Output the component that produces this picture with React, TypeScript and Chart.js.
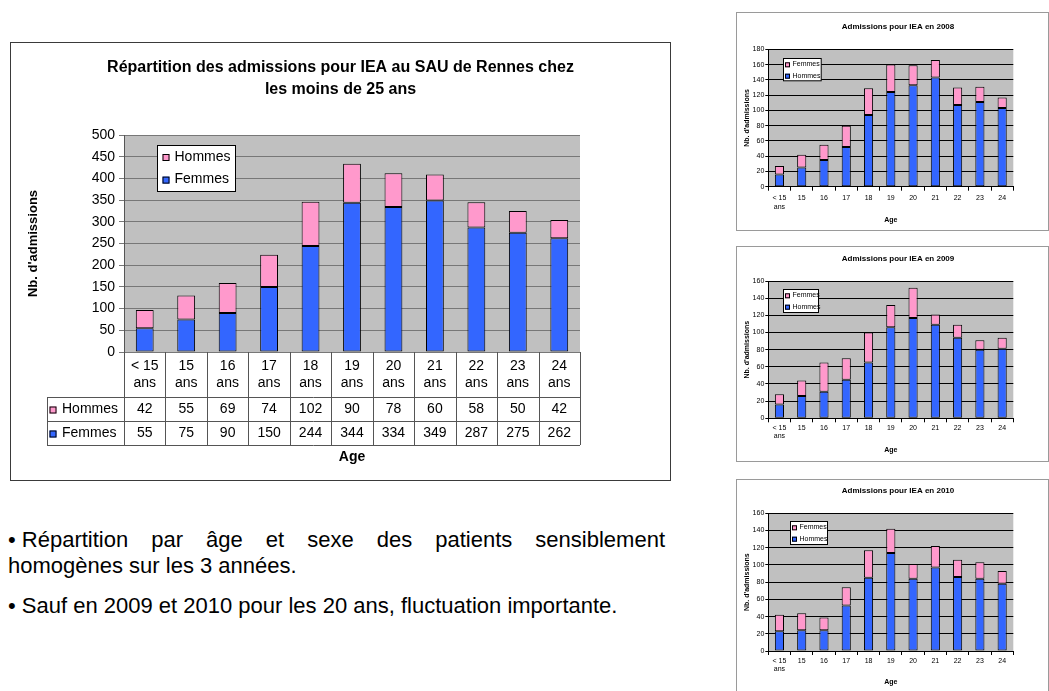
import React, { useEffect, useRef } from "react";
import { Chart, registerables } from "chart.js";

Chart.register(...registerables);

const FONT = "Arial, 'Liberation Sans', sans-serif";
const BLUE = "#3366FF";
const PINK = "#FF99CC";
const PLOT_GRAY = "#C0C0C0";

// ---------- Main chart data ----------
const mainTitleLines = [
  "Répartition des admissions pour IEA au SAU de Rennes chez",
  "les moins de 25 ans",
];
const mainAges = ["< 15 ans", "15 ans", "16 ans", "17 ans", "18 ans", "19 ans", "20 ans", "21 ans", "22 ans", "23 ans", "24 ans"];
const mainHommes = [42, 55, 69, 74, 102, 90, 78, 60, 58, 50, 42];
const mainFemmes = [55, 75, 90, 150, 244, 344, 334, 349, 287, 275, 262];
const mainYMax = 500;
const mainYStep = 50;

// ---------- Small charts data ----------
const smallAges: (string | string[])[] = [["< 15", "ans"], "15", "16", "17", "18", "19", "20", "21", "22", "23", "24"];
const hommes2008 = [16, 25, 35, 52, 94, 124, 133, 143, 107, 111, 103];
const femmes2008 = [11, 17, 20, 28, 35, 36, 26, 23, 23, 20, 14];
const hommes2009 = [16, 26, 31, 45, 65, 106, 117, 109, 94, 80, 81];
const femmes2009 = [12, 18, 34, 25, 35, 26, 35, 12, 15, 11, 13];
const hommes2010 = [23, 24, 24, 53, 85, 114, 84, 97, 86, 84, 78];
const femmes2010 = [19, 20, 15, 21, 32, 28, 17, 25, 20, 19, 15];

const bullet1Head = "• Répartition";
const bullet1Rest = " par âge et sexe des patients sensiblement";
const bullet1b = "homogènes sur les 3 années.";
const bullet2 = "• Sauf en 2009 et 2010 pour les 20 ans, fluctuation importante.";

function drawKey(ctx: CanvasRenderingContext2D, x: number, y: number, s: number, color: string) {
  ctx.fillStyle = color;
  ctx.fillRect(x, y, s, s);
  ctx.strokeStyle = "#000";
  ctx.lineWidth = 1;
  ctx.strokeRect(x + 0.5, y + 0.5, s - 1, s - 1);
}

function MainChart() {
  const ref = useRef<HTMLCanvasElement | null>(null);
  useEffect(() => {
    const canvas = ref.current!;
    const W = 659;
    const H = 437;
    const plotLeft = 113;
    const plotRight = 569;
    const plotTop = 92;
    const plotBottom = 309;

    const bg = {
      id: "mainBg",
      beforeDraw(c: any) {
        const { ctx, chartArea: a } = c;
        ctx.save();
        ctx.fillStyle = PLOT_GRAY;
        ctx.fillRect(a.left, a.top, a.right - a.left, a.bottom - a.top);
        ctx.restore();
      },
    };

    const title = {
      id: "mainTitle",
      afterDraw(c: any) {
        const ctx = c.ctx;
        ctx.save();
        ctx.fillStyle = "#000";
        ctx.font = `bold 16px ${FONT}`;
        ctx.textAlign = "center";
        ctx.textBaseline = "middle";
        mainTitleLines.forEach((l, i) => ctx.fillText(l, W / 2, 24.5 + i * 22));
        ctx.restore();
      },
    };

    const legend = {
      id: "mainLegend",
      afterDraw(c: any) {
        const { ctx, chartArea: a } = c;
        const lx = a.left + 33.5;
        const ly = a.top + 10.5;
        const lw = 78;
        const lh = 46;
        ctx.save();
        ctx.fillStyle = "#fff";
        ctx.fillRect(lx, ly, lw, lh);
        ctx.strokeStyle = "#000";
        ctx.lineWidth = 1;
        ctx.strokeRect(lx, ly, lw, lh);
        const ds = [...c.data.datasets].reverse();
        ds.forEach((d: any, i: number) => {
          const cy = ly + 11.5 + i * 22.6;
          drawKey(ctx, lx + 5, cy - 3, 7, d.backgroundColor);
          ctx.fillStyle = "#000";
          ctx.font = `14px ${FONT}`;
          ctx.textAlign = "left";
          ctx.textBaseline = "middle";
          ctx.fillText(d.label, lx + 17, cy);
        });
        ctx.restore();
      },
    };

    const table = {
      id: "mainTable",
      afterDraw(c: any) {
        const { ctx, chartArea: a } = c;
        const xs = c.scales.x;
        const n = c.data.labels.length;
        const cw = (a.right - a.left) / n;
        const headerBottom = a.bottom + 45;
        const rowH = 24;
        const tableLeft = 36;
        const ds = [...c.data.datasets].reverse();
        const tableBottom = headerBottom + rowH * ds.length;
        ctx.save();
        ctx.strokeStyle = "#555";
        ctx.lineWidth = 1;
        ctx.beginPath();
        for (let i = 0; i <= n; i++) {
          const x = Math.round(a.left + i * cw) + 0.5;
          ctx.moveTo(x, a.bottom);
          ctx.lineTo(x, tableBottom);
        }
        for (let r = 0; r <= ds.length; r++) {
          const y = Math.round(headerBottom + r * rowH) + 0.5;
          ctx.moveTo(tableLeft, y);
          ctx.lineTo(a.right, y);
        }
        ctx.moveTo(tableLeft + 0.5, headerBottom);
        ctx.lineTo(tableLeft + 0.5, tableBottom);
        ctx.stroke();

        ctx.fillStyle = "#000";
        ctx.font = `14px ${FONT}`;
        ctx.textAlign = "center";
        ctx.textBaseline = "middle";
        c.data.labels.forEach((lab: string, i: number) => {
          const x = xs.getPixelForValue(i);
          const k = lab.lastIndexOf(" ");
          ctx.fillText(lab.slice(0, k), x, a.bottom + 14);
          ctx.fillText(lab.slice(k + 1), x, a.bottom + 31);
        });
        ds.forEach((d: any, r: number) => {
          const cy = headerBottom + rowH * r + rowH / 2 + 0.5;
          drawKey(ctx, tableLeft + 2.5, cy - 3, 7, d.backgroundColor);
          ctx.fillStyle = "#000";
          ctx.textAlign = "left";
          ctx.fillText(d.label, tableLeft + 15, cy);
          ctx.textAlign = "center";
          d.data.forEach((v: number, i: number) => {
            ctx.fillText(String(v), xs.getPixelForValue(i), cy);
          });
        });
        ctx.restore();
      },
    };

    const barStyle = {
      borderColor: "#000",
      borderWidth: 1,
      borderSkipped: false,
      barPercentage: 0.43,
      categoryPercentage: 1,
    };

    const chart = new Chart(canvas, {
      type: "bar",
      data: {
        labels: mainAges,
        datasets: [
          { label: "Femmes", data: mainFemmes, backgroundColor: BLUE, ...barStyle },
          { label: "Hommes", data: mainHommes, backgroundColor: PINK, ...barStyle },
        ],
      },
      options: {
        responsive: false,
        animation: false,
        events: [],
        layout: { padding: { left: 0, right: W - plotRight, top: plotTop, bottom: 0 } },
        plugins: { legend: { display: false }, title: { display: false }, tooltip: { enabled: false } },
        scales: {
          x: {
            stacked: true,
            offset: true,
            grid: { display: false },
            border: { display: false },
            ticks: { display: false },
            title: {
              display: true,
              text: "Age",
              color: "#000",
              font: { family: FONT, size: 14, weight: "bold" },
              padding: { top: 0, bottom: 14 },
            },
            afterFit: (s: any) => {
              s.height = H - plotBottom;
            },
          },
          y: {
            stacked: true,
            min: 0,
            max: mainYMax,
            ticks: { stepSize: mainYStep, color: "#000", font: { family: FONT, size: 14 }, padding: 4 },
            grid: { color: "#777", tickLength: 5 },
            border: { color: "#555" },
            title: {
              display: true,
              text: "Nb. d'admissions",
              color: "#000",
              font: { family: FONT, size: 13, weight: "bold" },
              padding: { top: 14.2, bottom: 0 },
            },
            afterFit: (s: any) => {
              s.width = plotLeft;
            },
          },
        },
      } as any,
      plugins: [bg, title, legend, table],
    });
    return () => chart.destroy();
  }, []);
  return <canvas ref={ref} width={659} height={437} style={{ display: "block" }} />;
}

type SmallProps = {
  title: string;
  hommes: number[];
  femmes: number[];
  yMax: number;
  height: number;
  plotTop: number;
  plotBottom: number;
  titleY: number;
  labelGap: number;
  ageY: number;
  legendBox: number[];
};

function SmallChart(p: SmallProps) {
  const ref = useRef<HTMLCanvasElement | null>(null);
  useEffect(() => {
    const canvas = ref.current!;
    const W = 311;
    const H = p.height;
    const plotLeft = 31.3;
    const plotRight = 276.3;
    const lineH = 7 * 1.25;

    const bg = {
      id: "smallBg",
      beforeDraw(c: any) {
        const { ctx, chartArea: a } = c;
        ctx.save();
        ctx.fillStyle = PLOT_GRAY;
        ctx.fillRect(a.left, a.top, a.right - a.left, a.bottom - a.top);
        ctx.restore();
      },
    };
    const title = {
      id: "smallTitle",
      afterDraw(c: any) {
        const ctx = c.ctx;
        ctx.save();
        ctx.fillStyle = "#000";
        ctx.font = `bold 8px ${FONT}`;
        ctx.textAlign = "center";
        ctx.textBaseline = "middle";
        ctx.fillText(p.title, 161, p.titleY);
        ctx.restore();
      },
    };
    const legend = {
      id: "smallLegend",
      afterDraw(c: any) {
        const { ctx, chartArea: a } = c;
        const [ox, oy, lw, lh] = p.legendBox;
        const lx = Math.round(a.left + ox) + 0.5;
        const ly = Math.round(a.top + oy) + 0.5;
        ctx.save();
        ctx.fillStyle = "#fff";
        ctx.fillRect(lx, ly, lw, lh);
        ctx.strokeStyle = "#000";
        ctx.lineWidth = 1;
        ctx.strokeRect(lx, ly, lw, lh);
        const ds = [...c.data.datasets].reverse();
        ds.forEach((d: any, i: number) => {
          const cy = ly + 5.8 + i * 11.4;
          drawKey(ctx, lx + 1.5, cy - 2, 5, d.backgroundColor);
          ctx.fillStyle = "#000";
          ctx.font = `7px ${FONT}`;
          ctx.textAlign = "left";
          ctx.textBaseline = "middle";
          ctx.fillText(d.label, lx + 9, cy);
        });
        ctx.restore();
      },
    };

    const barStyle = {
      borderColor: "#000",
      borderWidth: 1,
      borderSkipped: false,
      barPercentage: 0.41,
      categoryPercentage: 1,
    };

    const chart = new Chart(canvas, {
      type: "bar",
      data: {
        labels: smallAges,
        datasets: [
          { label: "Hommes", data: p.hommes, backgroundColor: BLUE, ...barStyle },
          { label: "Femmes", data: p.femmes, backgroundColor: PINK, ...barStyle },
        ],
      },
      options: {
        responsive: false,
        animation: false,
        events: [],
        layout: { padding: { left: 0, right: W - plotRight, top: p.plotTop, bottom: 0 } },
        plugins: { legend: { display: false }, title: { display: false }, tooltip: { enabled: false } },
        scales: {
          x: {
            stacked: true,
            offset: true,
            grid: { display: true, drawOnChartArea: false, drawTicks: true, tickLength: 4, color: "#000", offset: true },
            border: { display: true, color: "#000" },
            ticks: {
              color: "#000",
              font: { family: FONT, size: 7, lineHeight: 1.25 },
              padding: p.labelGap - 4 - lineH / 2,
              maxRotation: 0,
              autoSkip: false,
            },
            title: {
              display: true,
              text: "Age",
              color: "#000",
              font: { family: FONT, size: 7, weight: "bold" },
              padding: { top: 0, bottom: H - p.ageY - 4.2 },
            },
            afterFit: (s: any) => {
              s.height = H - p.plotBottom;
            },
          },
          y: {
            stacked: true,
            min: 0,
            max: p.yMax,
            ticks: { stepSize: 20, color: "#000", font: { family: FONT, size: 7 }, padding: 1 },
            grid: { color: "#000", tickLength: 3 },
            border: { color: "#000" },
            title: {
              display: true,
              text: "Nb. d'admissions",
              color: "#000",
              font: { family: FONT, size: 7, weight: "bold" },
              padding: { top: 5.5, bottom: 0 },
            },
            afterFit: (s: any) => {
              s.width = plotLeft;
            },
          },
        },
      } as any,
      plugins: [bg, title, legend],
    });
    return () => chart.destroy();
  }, []);
  return <canvas ref={ref} width={311} height={p.height} style={{ display: "block" }} />;
}

export default function App() {
  const smallBox = (top: number, h: number): React.CSSProperties => ({
    position: "absolute",
    left: 736,
    top,
    width: 313,
    height: h,
    boxSizing: "border-box",
    border: "1px solid #9a9a9a",
    background: "#fff",
  });
  return (
    <div
      style={{
        position: "absolute",
        left: 0,
        top: 0,
        width: 1049,
        height: 691,
        overflow: "hidden",
        background: "#fff",
        fontFamily: FONT,
        color: "#000",
      }}
    >
      <div
        style={{
          position: "absolute",
          left: 10,
          top: 42,
          width: 661,
          height: 439,
          boxSizing: "border-box",
          border: "1px solid #3a3a3a",
        }}
      >
        <MainChart />
      </div>

      <div style={smallBox(12, 219)}>
        <SmallChart
          title="Admissions pour IEA en 2008"
          hommes={hommes2008}
          femmes={femmes2008}
          yMax={180}
          height={217}
          plotTop={36.3}
          plotBottom={173.7}
          titleY={13.7}
          labelGap={11.3}
          ageY={207}
          legendBox={[15, 8.4, 37.7, 22.3]}
        />
      </div>
      <div style={smallBox(246, 216)}>
        <SmallChart
          title="Admissions pour IEA en 2009"
          hommes={hommes2009}
          femmes={femmes2009}
          yMax={160}
          height={214}
          plotTop={34}
          plotBottom={171.3}
          titleY={11.3}
          labelGap={9.4}
          ageY={203}
          legendBox={[14.7, 8, 35, 23]}
        />
      </div>
      <div style={smallBox(479, 220)}>
        <SmallChart
          title="Admissions pour IEA en 2010"
          hommes={hommes2010}
          femmes={femmes2010}
          yMax={160}
          height={218}
          plotTop={33.3}
          plotBottom={171}
          titleY={11}
          labelGap={9.7}
          ageY={202}
          legendBox={[21.7, 7.7, 37, 23]}
        />
      </div>

      <div style={{ position: "absolute", left: 8, top: 527, width: 657, fontSize: 22, lineHeight: "26px" }}>
        <div style={{ textAlign: "justify", textAlignLast: "justify" as any }}>
          <span style={{ display: "inline-block", whiteSpace: "pre" }}>{bullet1Head}</span>
          {bullet1Rest}
        </div>
        <div>{bullet1b}</div>
        <div style={{ marginTop: 14 }}>{bullet2}</div>
      </div>
    </div>
  );
}
